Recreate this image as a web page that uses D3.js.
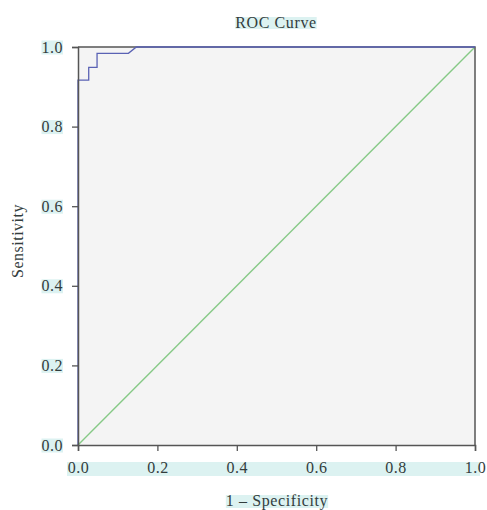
<!DOCTYPE html>
<html>
<head>
<meta charset="utf-8">
<script src="https://cdn.jsdelivr.net/npm/d3@7"></script>
<style>
  body { margin: 0; background: #fff; }
</style>
</head>
<body>
<div id="chart"></div>
<script>
// ---- Data -------------------------------------------------------------
const rocFpr = [0, 0, 0.027, 0.027, 0.048, 0.048, 0.127, 0.147, 1];
const rocTpr = [0, 0.917, 0.917, 0.949, 0.949, 0.984, 0.984, 1, 1];
const refLine = [0, 1];
const tickValues = [0, 0.2, 0.4, 0.6, 0.8, 1.0];

// ---- Dimensions -------------------------------------------------------
const dimensions = {
  width: 487,
  height: 510,
  margin: { top: 47, right: 12, bottom: 65, left: 78 }
};
dimensions.ctrWidth  = dimensions.width  - dimensions.margin.left - dimensions.margin.right;
dimensions.ctrHeight = dimensions.height - dimensions.margin.top  - dimensions.margin.bottom;

const hl = '#dcf2f1';
const font = "'Liberation Serif', 'Times New Roman', serif";
const textColor = '#333d3d';

const svg = d3.select('#chart')
  .append('svg')
  .attr('width', dimensions.width)
  .attr('height', dimensions.height);

const ctr = svg.append('g')
  .attr('transform', `translate(${dimensions.margin.left},${dimensions.margin.top})`);

// ---- Scales -----------------------------------------------------------
const xScale = d3.scaleLinear().domain([0, 1]).range([0, dimensions.ctrWidth]);
const yScale = d3.scaleLinear().domain([0, 1]).range([dimensions.ctrHeight, 0]);

// ---- Plot background --------------------------------------------------
ctr.append('rect')
  .attr('width', dimensions.ctrWidth)
  .attr('height', dimensions.ctrHeight)
  .attr('fill', '#f4f4f4');

// ---- Lines ------------------------------------------------------------
const line = d3.line().x(d => xScale(d[0])).y(d => yScale(d[1]));

ctr.append('path')
  .datum(refLine.map(v => [v, v]))
  .attr('fill', 'none')
  .attr('stroke', '#86c986')
  .attr('stroke-width', 1.4)
  .attr('d', line);

// frame (right + top)
ctr.append('path')
  .attr('fill', 'none')
  .attr('stroke', '#555')
  .attr('stroke-width', 1.5)
  .attr('d', `M0,0H${dimensions.ctrWidth}V${dimensions.ctrHeight}`);

ctr.append('path')
  .datum(rocFpr.map((x, i) => [x, rocTpr[i]]))
  .attr('fill', 'none')
  .attr('stroke', '#5a62b4')
  .attr('stroke-width', 1.3)
  .attr('d', line);

// ---- Axes -------------------------------------------------------------
const fmt = d3.format('.1f');

const xAxisGroup = ctr.append('g')
  .attr('transform', `translate(0,${dimensions.ctrHeight})`)
  .call(d3.axisBottom(xScale).tickValues(tickValues).tickFormat(fmt).tickSizeOuter(0).tickSize(6).tickPadding(11));

const yAxisGroup = ctr.append('g')
  .call(d3.axisLeft(yScale).tickValues(tickValues).tickFormat(fmt).tickSizeOuter(0).tickSize(6).tickPadding(9));

[xAxisGroup, yAxisGroup].forEach(g => {
  g.select('.domain').attr('stroke', '#555').attr('stroke-width', 1.5);
  g.selectAll('.tick line').attr('stroke', '#555').attr('stroke-width', 1.3);
  g.selectAll('.tick text')
    .style('font-family', font)
    .style('font-size', '16px')
    .style('letter-spacing', '0.5px')
    .attr('fill', textColor);
});

// highlight band behind x tick labels
xAxisGroup.insert('rect', ':first-child')
  .attr('x', -11)
  .attr('y', 17)
  .attr('width', dimensions.ctrWidth + 16)
  .attr('height', 14)
  .attr('fill', hl);

// highlight boxes behind y tick labels
yAxisGroup.selectAll('.tick').each(function () {
  const t = d3.select(this);
  const bb = t.select('text').node().getBBox();
  t.insert('rect', ':first-child')
    .attr('x', bb.x)
    .attr('y', -7)
    .attr('width', bb.width)
    .attr('height', 14)
    .attr('fill', hl);
});

// ---- Titles -----------------------------------------------------------
function hlText(x, y, str) {
  const g = svg.append('g');
  const t = g.append('text')
    .attr('x', x)
    .attr('y', y)
    .attr('text-anchor', 'middle')
    .style('font-family', font)
    .style('font-size', '16px')
    .style('letter-spacing', '0.6px')
    .attr('fill', textColor)
    .text(str);
  const bb = t.node().getBBox();
  g.insert('rect', 'text')
    .attr('x', bb.x)
    .attr('y', bb.y + 3)
    .attr('width', bb.width)
    .attr('height', bb.height - 5)
    .attr('fill', hl);
}

hlText(276, 28, 'ROC Curve');
hlText(277, 506, '1 – Specificity');

svg.append('text')
  .attr('transform', 'translate(23,241) rotate(-90)')
  .attr('text-anchor', 'middle')
  .style('font-family', font)
  .style('font-size', '16px')
  .style('letter-spacing', '0.5px')
  .attr('fill', textColor)
  .text('Sensitivity');
</script>
</body>
</html>
